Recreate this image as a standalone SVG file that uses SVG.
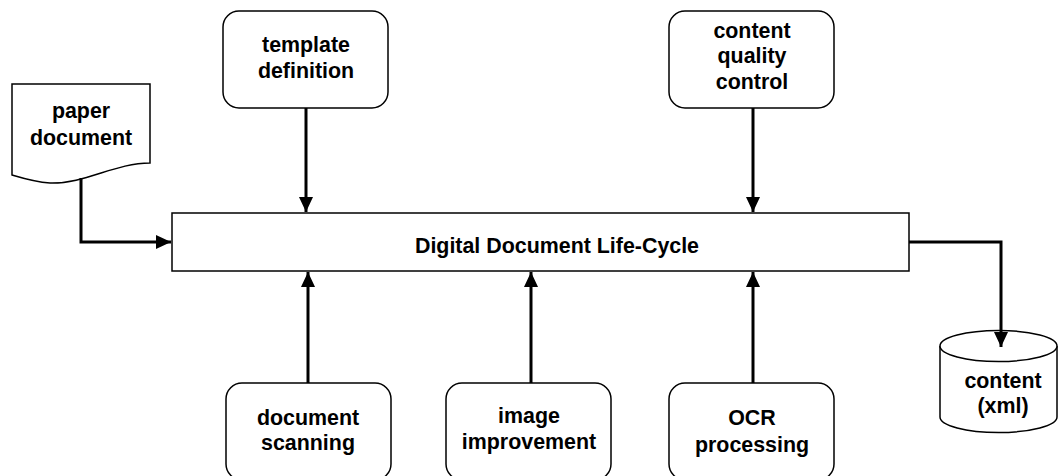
<svg xmlns="http://www.w3.org/2000/svg" width="1058" height="476" viewBox="0 0 1058 476">
<style>
.shape{fill:#fff;stroke:#000;stroke-width:1.5}
.lbl{font-family:"Liberation Sans",Arial,sans-serif;font-weight:bold;font-size:21.4px;fill:#000;text-anchor:middle}
.conn{fill:none;stroke:#000;stroke-width:3}
</style>
<defs>
<marker id="ah" markerUnits="userSpaceOnUse" markerWidth="16" markerHeight="16" viewBox="0 0 16 16" refX="15" refY="8" orient="auto">
<path d="M0,1 L15,8 L0,15 Z" fill="#000"/>
</marker>
</defs>
<rect width="1058" height="476" fill="#fff"/>
<g id="lifecycle">
<rect class="shape" x="172" y="213" width="737" height="58"/>
<text class="lbl" x="557" y="253">Digital Document Life-Cycle</text>
</g>
<g id="paper">
<path class="shape" d="M12,84 H150 V163 C115,163 85,184 50,183 C35,182 22,178 12,175 Z"/>
<text class="lbl" x="81" y="118">paper</text>
<text class="lbl" x="81" y="145">document</text>
</g>
<g id="template">
<rect class="shape" x="223" y="11" width="165" height="97" rx="16"/>
<text class="lbl" x="306" y="52">template</text>
<text class="lbl" x="306" y="78">definition</text>
</g>
<g id="quality">
<rect class="shape" x="669" y="11" width="165" height="97" rx="16"/>
<text class="lbl" x="752" y="38">content</text>
<text class="lbl" x="752" y="63">quality</text>
<text class="lbl" x="752" y="89">control</text>
</g>
<g id="scanning">
<rect class="shape" x="226" y="383" width="165" height="97" rx="16"/>
<text class="lbl" x="308" y="425">document</text>
<text class="lbl" x="308" y="450">scanning</text>
</g>
<g id="improvement">
<rect class="shape" x="446" y="383" width="165" height="97" rx="16"/>
<text class="lbl" x="529" y="423">image</text>
<text class="lbl" x="529" y="449">improvement</text>
</g>
<g id="ocr">
<rect class="shape" x="669" y="383" width="165" height="97" rx="16"/>
<text class="lbl" x="752" y="425">OCR</text>
<text class="lbl" x="752" y="452">processing</text>
</g>
<g id="content">
<path class="shape" d="M940,346 V417 A58.5,15.5 0 0 0 1057,417 V346"/>
<ellipse class="shape" cx="998.5" cy="346" rx="58.5" ry="15.5"/>
<text class="lbl" x="1003" y="388">content</text>
<text class="lbl" x="1003" y="413">(xml)</text>
</g>
<g id="connectors">
<path class="conn" d="M81,178 V242 H171" marker-end="url(#ah)"/>
<path class="conn" d="M306,108 V212" marker-end="url(#ah)"/>
<path class="conn" d="M753,108 V212" marker-end="url(#ah)"/>
<path class="conn" d="M308,383 V272" marker-end="url(#ah)"/>
<path class="conn" d="M531,383 V272" marker-end="url(#ah)"/>
<path class="conn" d="M753,383 V272" marker-end="url(#ah)"/>
<path class="conn" d="M909,242 H1001 V347" marker-end="url(#ah)"/>
</g>
</svg>
